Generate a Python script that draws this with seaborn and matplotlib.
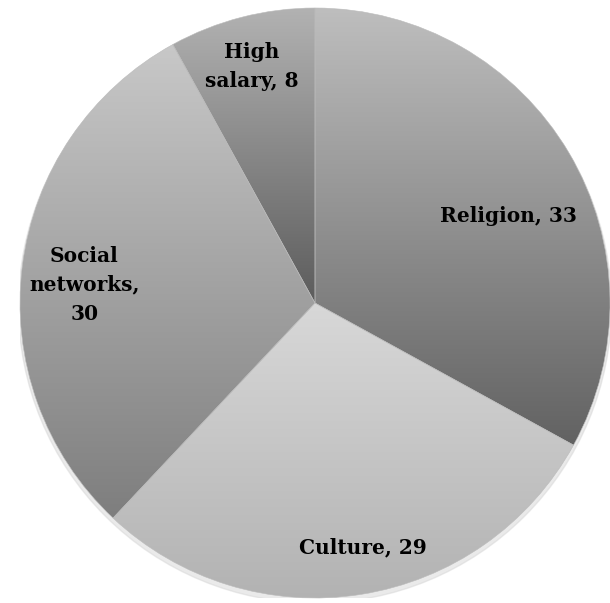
import numpy as np
import matplotlib
matplotlib.use("Agg")
import matplotlib.pyplot as plt
import seaborn as sns
from matplotlib.colors import LinearSegmentedColormap

sns.set_theme(style="white")
plt.rcParams['font.family'] = ['DejaVu Serif', 'Liberation Serif']

categories = ["Religion", "Culture", "Social networks", "High salary"]
values = [33, 29, 30, 8]
label_texts = ["Religion, 33", "Culture, 29", "Social\nnetworks,\n30", "High\nsalary, 8"]

# style: gradient top/bottom colours and label placement (radius factor, angle offset deg)
top_colors = ["#bebebe", "#d8d8d8", "#c8c8c8", "#b2b2b2"]
bottom_colors = ["#626262", "#b2b2b2", "#7e7e7e", "#5c5c5c"]
label_r = [0.72, 0.845, 0.785, 0.83]
label_dtheta = [-6.5, 2.0, 2.7, 0.5]

fig = plt.figure(figsize=(6.10, 6.03), dpi=100)
R = 295
ax = fig.add_axes([(315 - R) / 610, (300 - R) / 603, 2 * R / 610, 2 * R / 603])
ax.set_xlim(-1, 1)
ax.set_ylim(-1, 1)
ax.set_aspect('equal')
ax.axis('off')

# faint shadow
shadow = plt.Circle((0.0, -0.012), 1.005, color="#d6d6d6", zorder=0, alpha=0.5)
ax.add_patch(shadow)

wedges, _ = ax.pie(values, startangle=90, counterclock=False, radius=1,
                   wedgeprops=dict(linewidth=0.4, edgecolor="#bbbbbb"))

grad = np.linspace(1, 0, 256).reshape(-1, 1)
for w, tc, bc in zip(wedges, top_colors, bottom_colors):
    w.set_facecolor("none")
    path = w.get_path()
    verts = path.vertices
    x0, x1 = verts[:, 0].min(), verts[:, 0].max()
    y0, y1 = verts[:, 1].min(), verts[:, 1].max()
    cmap = LinearSegmentedColormap.from_list("g", [bc, tc])
    im = ax.imshow(grad, cmap=cmap, extent=[x0, x1, y0, y1], aspect='auto',
                   origin='upper', zorder=1, interpolation='bilinear')
    im.set_clip_path(w)
    w.set_zorder(2)

ax.set_xlim(-1, 1)
ax.set_ylim(-1, 1)

for w, txt, rf, dt in zip(wedges, label_texts, label_r, label_dtheta):
    ang = np.deg2rad((w.theta1 + w.theta2) / 2 + dt)
    ax.text(rf * np.cos(ang), rf * np.sin(ang), txt, ha='center', va='center',
            fontsize=14.5, fontweight='bold', color='black', zorder=5,
            linespacing=1.55)

fig.savefig("out.png", dpi=100)
